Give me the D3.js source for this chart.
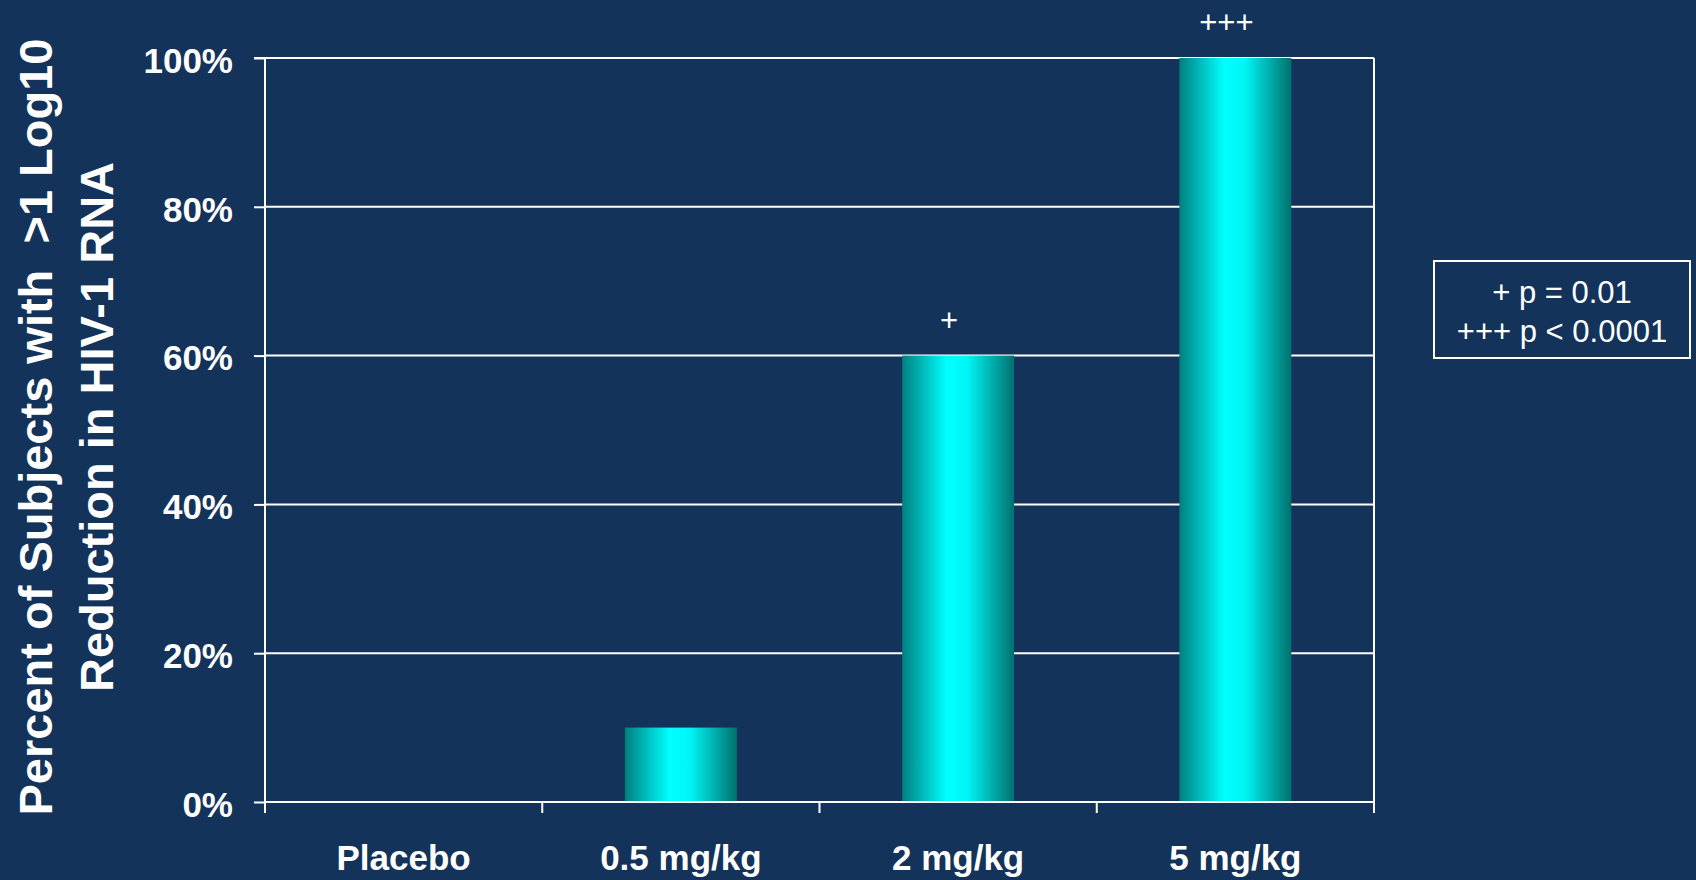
<!DOCTYPE html>
<html>
<head>
<meta charset="utf-8">
<script src="https://cdn.jsdelivr.net/npm/d3@7"></script>
<style>
  html, body { margin: 0; padding: 0; background: #14335a; }
  svg { display: block; }
  text { font-family: "Liberation Sans", Arial, sans-serif; fill: #ffffff; }
</style>
</head>
<body>
<svg id="chart" width="1696" height="880"></svg>
<script>
// Dose groups and share of subjects reaching >1 log10 reduction
const categories = ["Placebo", "0.5 mg/kg", "2 mg/kg", "5 mg/kg"];
const values = [0, 0.10, 0.60, 1.00];
const significance = ["", "", "+", "+++"];
const yTicks = [0, 0.2, 0.4, 0.6, 0.8, 1.0];
const yTitle = ["Percent of Subjects with  >1 Log10", "Reduction in HIV-1 RNA"];
const legendLines = ["+ p = 0.01", "+++ p < 0.0001"];

const W = 1696, H = 880;
const plot = { left: 265, right: 1374, top: 58, bottom: 802 };

const svg = d3.select("#chart");

// Horizontal gradient giving the bars a cylindrical look
const defs = svg.append("defs");
const grad = defs.append("linearGradient")
  .attr("id", "barGrad").attr("x1", "0%").attr("x2", "100%").attr("y1", "0%").attr("y2", "0%");
[["0%", "#007f7f"], ["40%", "#00ffff"], ["58%", "#00f6f6"], ["100%", "#00706e"]]
  .forEach(([o, c]) => grad.append("stop").attr("offset", o).attr("stop-color", c));

const x = d3.scaleBand()
  .domain(categories)
  .range([plot.left, plot.right])
  .paddingInner(0.596)
  .paddingOuter(0.298);

const slot = d3.scaleLinear().domain([0, categories.length]).range([plot.left, plot.right]);

const y = d3.scaleLinear().domain([0, 1]).range([plot.bottom, plot.top]);

// Gridlines
svg.append("g")
  .selectAll("line")
  .data(yTicks)
  .join("line")
  .attr("x1", plot.left).attr("x2", plot.right)
  .attr("y1", d => y(d)).attr("y2", d => y(d))
  .attr("stroke", "#ffffff").attr("stroke-width", 2);

// Right frame edge
svg.append("line")
  .attr("x1", plot.right).attr("x2", plot.right)
  .attr("y1", y(1)).attr("y2", y(0) + 11)
  .attr("stroke", "#ffffff").attr("stroke-width", 2);

// Bars
svg.append("g")
  .selectAll("rect")
  .data(categories.map((c, i) => ({ c, v: values[i] })))
  .join("rect")
  .attr("x", d => x(d.c))
  .attr("width", x.bandwidth())
  .attr("y", d => y(d.v))
  .attr("height", d => y(0) - y(d.v))
  .attr("fill", "url(#barGrad)");

// Y axis
const yAxis = svg.append("g")
  .attr("transform", `translate(${plot.left},0)`)
  .call(d3.axisLeft(y).tickValues(yTicks).tickFormat(d3.format(".0%")).tickSize(11).tickPadding(21));
yAxis.select(".domain").attr("stroke", "#ffffff").attr("stroke-width", 2).attr("d", `M-11,${y(1)}H0V${y(0) + 11}`);
yAxis.selectAll(".tick line").attr("stroke", "#ffffff").attr("stroke-width", 2);
yAxis.selectAll(".tick text")
  .attr("fill", "#ffffff")
  .style("font-size", "35px").style("font-weight", "bold")
  .attr("dy", "0.41em");

// X axis: baseline with boundary ticks between groups
const xAxis = svg.append("g");
xAxis.append("line")
  .attr("x1", plot.left).attr("x2", plot.right)
  .attr("y1", y(0)).attr("y2", y(0))
  .attr("stroke", "#ffffff").attr("stroke-width", 2);
xAxis.selectAll("line.tick")
  .data(d3.range(categories.length + 1))
  .join("line")
  .attr("class", "tick")
  .attr("x1", d => slot(d)).attr("x2", d => slot(d))
  .attr("y1", y(0)).attr("y2", y(0) + 11)
  .attr("stroke", "#ffffff").attr("stroke-width", 2);
xAxis.selectAll("text")
  .data(categories)
  .join("text")
  .attr("x", d => x(d) + x.bandwidth() / 2)
  .attr("y", 870)
  .attr("text-anchor", "middle")
  .style("font-size", "35px").style("font-weight", "bold")
  .text(d => d);

// Significance markers above bars
svg.append("g")
  .selectAll("text")
  .data(categories.map((c, i) => ({ c, v: values[i], s: significance[i] })).filter(d => d.s))
  .join("text")
  .attr("x", d => x(d.c) + x.bandwidth() / 2 - 9)
  .attr("y", d => y(d.v) - 25)
  .attr("text-anchor", "middle")
  .style("font-size", "31px")
  .text(d => d.s);

// Y axis title, two lines rotated
const titleG = svg.append("g").attr("transform", `translate(0,427) rotate(-90)`);
titleG.selectAll("text")
  .data(yTitle)
  .join("text")
  .attr("x", 0)
  .attr("y", (d, i) => 52 + i * 61)
  .attr("text-anchor", "middle")
  .style("font-size", "47px").style("font-weight", "bold")
  .style("white-space", "pre")
  .attr("xml:space", "preserve")
  .text(d => d);

// Significance key
const key = svg.append("g");
key.append("rect")
  .attr("x", 1434).attr("y", 261)
  .attr("width", 256).attr("height", 97)
  .attr("fill", "none").attr("stroke", "#ffffff").attr("stroke-width", 2);
key.selectAll("text")
  .data(legendLines)
  .join("text")
  .attr("x", 1562)
  .attr("y", (d, i) => 303 + i * 39)
  .attr("text-anchor", "middle")
  .style("font-size", "31px")
  .text(d => d);
</script>
</body>
</html>
